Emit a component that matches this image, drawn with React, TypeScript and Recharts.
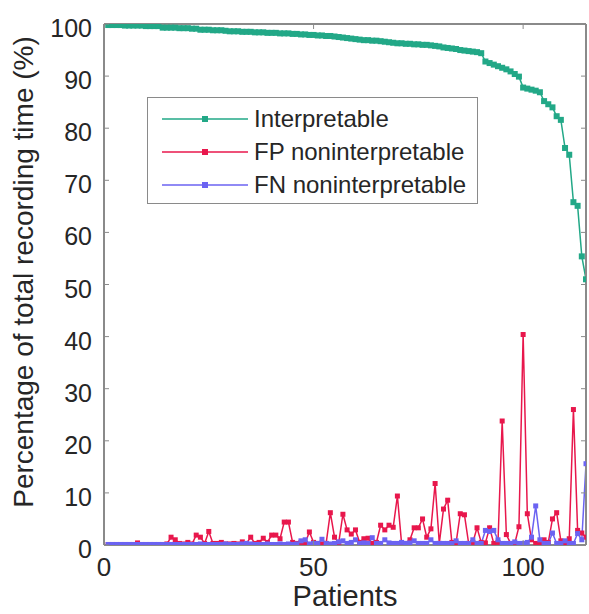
import React from 'react';
import { LineChart, Line, XAxis, YAxis, Legend } from 'recharts';

const patients: number[] = Array.from({ length: 115 }, (_, i) => i + 1);

const interpretable: number[] = [
  99.8, 99.8, 99.8, 99.8, 99.7, 99.7, 99.7, 99.7, 99.7, 99.6, 99.6, 99.6, 99.6,
  99.3, 99.3, 99.3, 99.3, 99.2, 99.2, 99.2, 99.1, 99.1,
  98.9, 98.9, 98.9, 98.8, 98.8, 98.8, 98.7,
  98.6, 98.6, 98.6, 98.5, 98.5, 98.5, 98.4, 98.4, 98.4,
  98.3, 98.3, 98.3, 98.2, 98.2, 98.2, 98.1, 98.1, 98.0, 98.0,
  97.9, 97.9, 97.8, 97.8, 97.7, 97.7, 97.6, 97.5, 97.4,
  97.3, 97.2, 97.1, 97.0, 96.9, 96.9, 96.8, 96.8, 96.7,
  96.6, 96.5, 96.4, 96.3, 96.3, 96.2, 96.2, 96.1, 96.1, 96.0, 96.0, 95.9, 95.8, 95.7,
  95.5, 95.4, 95.3, 95.2, 95.0, 94.9, 94.8, 94.7, 94.6, 94.4,
  92.8, 92.5, 92.2, 91.9, 91.6, 91.3, 90.9, 90.4, 89.9,
  87.8, 87.6, 87.4, 87.2, 86.9,
  85.2, 84.6, 84.0,
  82.3, 81.6,
  76.2, 74.9, 65.8, 65.1, 55.4, 51.0,
];

const fpNoninterpretable: number[] = [
  0.1, 0.1, 0.1, 0.1, 0.1, 0.1, 0.1, 0.4, 0.1, 0.1, 0.1, 0.1, 0.1, 0.1, 0.2,
  1.5, 1.0, 0.3, 0.2, 0.5, 0.2, 1.9, 1.5, 0.3, 2.6,
  0.3, 0.3, 0.5, 0.2, 0.2, 0.3, 0.2, 0.6, 0.3, 1.5,
  0.3, 0.5, 1.3, 0.5, 1.9, 1.9, 1.2, 4.4, 4.4, 0.5,
  0.3, 0.5, 0.4, 2.5, 0.5, 0.3, 0.2, 0.3, 6.2, 1.5,
  0.4, 5.9, 2.9, 2.1, 2.9, 0.5, 1.2, 1.3, 0.3, 0.5,
  3.8, 2.9, 3.8, 3.4, 9.4, 0.3, 0.3, 1.0, 3.3, 3.3,
  5.0, 1.5, 3.1, 11.8, 0.3, 6.9, 8.6, 0.5, 0.4, 6.0,
  5.8, 0.3, 0.5, 3.3, 0.5, 0.4, 3.3, 0.3, 0.5, 23.8,
  2.0, 0.3, 0.3, 3.5, 40.4, 6.0, 1.0, 0.3, 0.3, 1.0,
  0.5, 5.0, 6.2, 0.8, 0.2, 1.2, 26.0, 2.8, 2.3, 1.5,
];

const fnNoninterpretable: number[] = [
  0.1, 0.1, 0.1, 0.1, 0.1, 0.1, 0.1, 0.1, 0.1, 0.1,
  0.1, 0.1, 0.1, 0.1, 0.1, 0.1, 0.1, 0.1, 0.1, 0.1,
  0.1, 0.1, 0.2, 0.1, 0.1, 0.1, 0.1, 0.1, 0.2, 0.1,
  0.1, 0.1, 0.2, 0.3, 0.2, 0.1, 0.1, 0.1, 0.2, 0.1,
  0.1, 0.2, 0.1, 0.2, 0.1, 0.2, 0.8, 1.0, 0.2, 0.3,
  0.3, 1.1, 0.3, 0.2, 0.3, 0.6, 0.8, 0.3, 0.5, 1.0,
  0.3, 0.4, 0.3, 1.4, 0.3, 0.3, 1.0, 0.4, 0.3, 0.3,
  0.5, 0.3, 0.4, 0.8, 0.3, 0.3, 0.3, 1.0, 0.3, 0.3,
  0.3, 0.3, 0.3, 0.8, 0.3, 0.3, 0.3, 1.0, 0.3, 0.3,
  2.8, 2.6, 2.8, 1.0, 0.3, 0.3, 0.3, 0.6, 0.3, 0.3,
  0.5, 1.5, 7.5, 1.0, 0.3, 0.3, 2.3, 0.3, 0.3, 0.8,
  0.3, 0.3, 2.2, 1.0, 15.6,
];

const xTicks: number[] = [0, 50, 100];
const yTicks: number[] = [0, 10, 20, 30, 40, 50, 60, 70, 80, 90, 100];

const seriesNames = ['Interpretable', 'FP noninterpretable', 'FN noninterpretable'];
const seriesKeys = ['interp', 'fp', 'fn'];
const seriesColors = ['#22a887', '#e8174c', '#6b63f2'];

const data = patients.map((p, i) => ({
  patient: p,
  interp: interpretable[i],
  fp: fpNoninterpretable[i],
  fn: fnNoninterpretable[i],
}));

const FONT = '"Liberation Sans", Arial, sans-serif';
const TEXT = '#262626';
const AXIS = '#8a8a8a';
const TICK_LEN = 5;

const makeDot = (color: string, size: number) => (props: any) => {
  const { cx, cy, index } = props;
  if (cx == null || cy == null) return <g key={`d-${index}`} />;
  return (
    <rect key={`d-${index}`} x={cx - size / 2} y={cy - size / 2} width={size} height={size} fill={color} />
  );
};

const LeftTick = (props: any) => {
  const { x, y, payload } = props;
  return (
    <g>
      <line x1={x} x2={x + TICK_LEN} y1={y} y2={y} stroke={AXIS} strokeWidth={1} />
      <text x={x - 12} y={y + 4} textAnchor="end" dominantBaseline="central" fontSize={25} fontFamily={FONT} fill={TEXT}>
        {payload.value}
      </text>
    </g>
  );
};

const RightTick = (props: any) => {
  const { x, y } = props;
  return <line x1={x} x2={x - TICK_LEN} y1={y} y2={y} stroke={AXIS} strokeWidth={1} />;
};

const BottomTick = (props: any) => {
  const { x, y, payload } = props;
  return (
    <g>
      <line x1={x} x2={x} y1={y} y2={y - TICK_LEN} stroke={AXIS} strokeWidth={1} />
      <text x={x} y={y + 31} textAnchor="middle" fontSize={26} fontFamily={FONT} fill={TEXT}>
        {payload.value}
      </text>
    </g>
  );
};

const TopTick = (props: any) => {
  const { x, y } = props;
  return <line x1={x} x2={x} y1={y} y2={y + TICK_LEN} stroke={AXIS} strokeWidth={1} />;
};

const LegendBox = () => (
  <div
    style={{
      width: 331,
      height: 107,
      border: `1.5px solid ${AXIS}`,
      background: '#fff',
      boxSizing: 'border-box',
      position: 'relative',
      fontFamily: FONT,
      fontSize: 24,
      color: TEXT,
    }}
  >
    {seriesNames.map((name, i) => (
      <div key={name} style={{ position: 'absolute', left: 14, top: 7 + i * 33, height: 28, display: 'flex', alignItems: 'center' }}>
        <svg width={86} height={10} style={{ display: 'block' }}>
          <line x1={0} x2={86} y1={5} y2={5} stroke={seriesColors[i]} strokeWidth={1.5} />
          <rect x={40} y={2} width={6} height={6} fill={seriesColors[i]} />
        </svg>
        <span style={{ marginLeft: 6, whiteSpace: 'nowrap', lineHeight: '28px' }}>{name}</span>
      </div>
    ))}
  </div>
);

export default function App() {
  return (
    <div style={{ position: 'absolute', left: 0, top: 0, width: 589, height: 614, background: '#fff' }}>
      <LineChart width={589} height={614} data={data} margin={{ top: 4, right: 0, bottom: 0, left: 0 }}>
        <XAxis
          dataKey="patient"
          type="number"
          domain={[0, 115]}
          ticks={xTicks}
          allowDataOverflow
          height={69}
          tickSize={0}
          tickMargin={0}
          tickLine={false}
          axisLine={{ stroke: AXIS, strokeWidth: 2 }}
          tick={<BottomTick />}
          label={{
            content: () => (
              <text x={345} y={606} textAnchor="middle" fontSize={29} fontFamily={FONT} fill={TEXT}>
                Patients
              </text>
            ),
          }}
        />
        <XAxis
          xAxisId="top"
          orientation="top"
          dataKey="patient"
          type="number"
          domain={[0, 115]}
          ticks={xTicks}
          allowDataOverflow
          height={20}
          tickSize={0}
          tickMargin={0}
          tickLine={false}
          axisLine={{ stroke: AXIS, strokeWidth: 2 }}
          tick={<TopTick />}
        />
        <YAxis
          type="number"
          domain={[0, 100]}
          ticks={yTicks}
          allowDataOverflow
          width={104}
          tickSize={0}
          tickMargin={0}
          tickLine={false}
          axisLine={{ stroke: AXIS, strokeWidth: 2 }}
          tick={<LeftTick />}
          label={{
            content: () => (
              <text
                transform="translate(33,272) rotate(-90)"
                textAnchor="middle"
                fontSize={28}
                fontFamily={FONT}
                fill={TEXT}
              >
                Percentage of total recording time (%)
              </text>
            ),
          }}
        />
        <YAxis
          yAxisId="right"
          orientation="right"
          type="number"
          domain={[0, 100]}
          ticks={yTicks}
          allowDataOverflow
          width={3}
          tickSize={0}
          tickMargin={0}
          tickLine={false}
          axisLine={{ stroke: AXIS, strokeWidth: 2 }}
          tick={<RightTick />}
        />
        <Legend
          layout="vertical"
          align="center"
          verticalAlign="middle"
          content={<LegendBox />}
          wrapperStyle={{ left: 147, top: 97, width: 331, height: 107 }}
        />
        {seriesKeys.map((k, i) => (
          <Line
            key={k}
            dataKey={k}
            name={seriesNames[i]}
            stroke={seriesColors[i]}
            strokeWidth={1.5}
            dot={makeDot(seriesColors[i], i === 0 ? 6 : 5)}
            activeDot={false}
            isAnimationActive={false}
          />
        ))}
      </LineChart>
    </div>
  );
}
